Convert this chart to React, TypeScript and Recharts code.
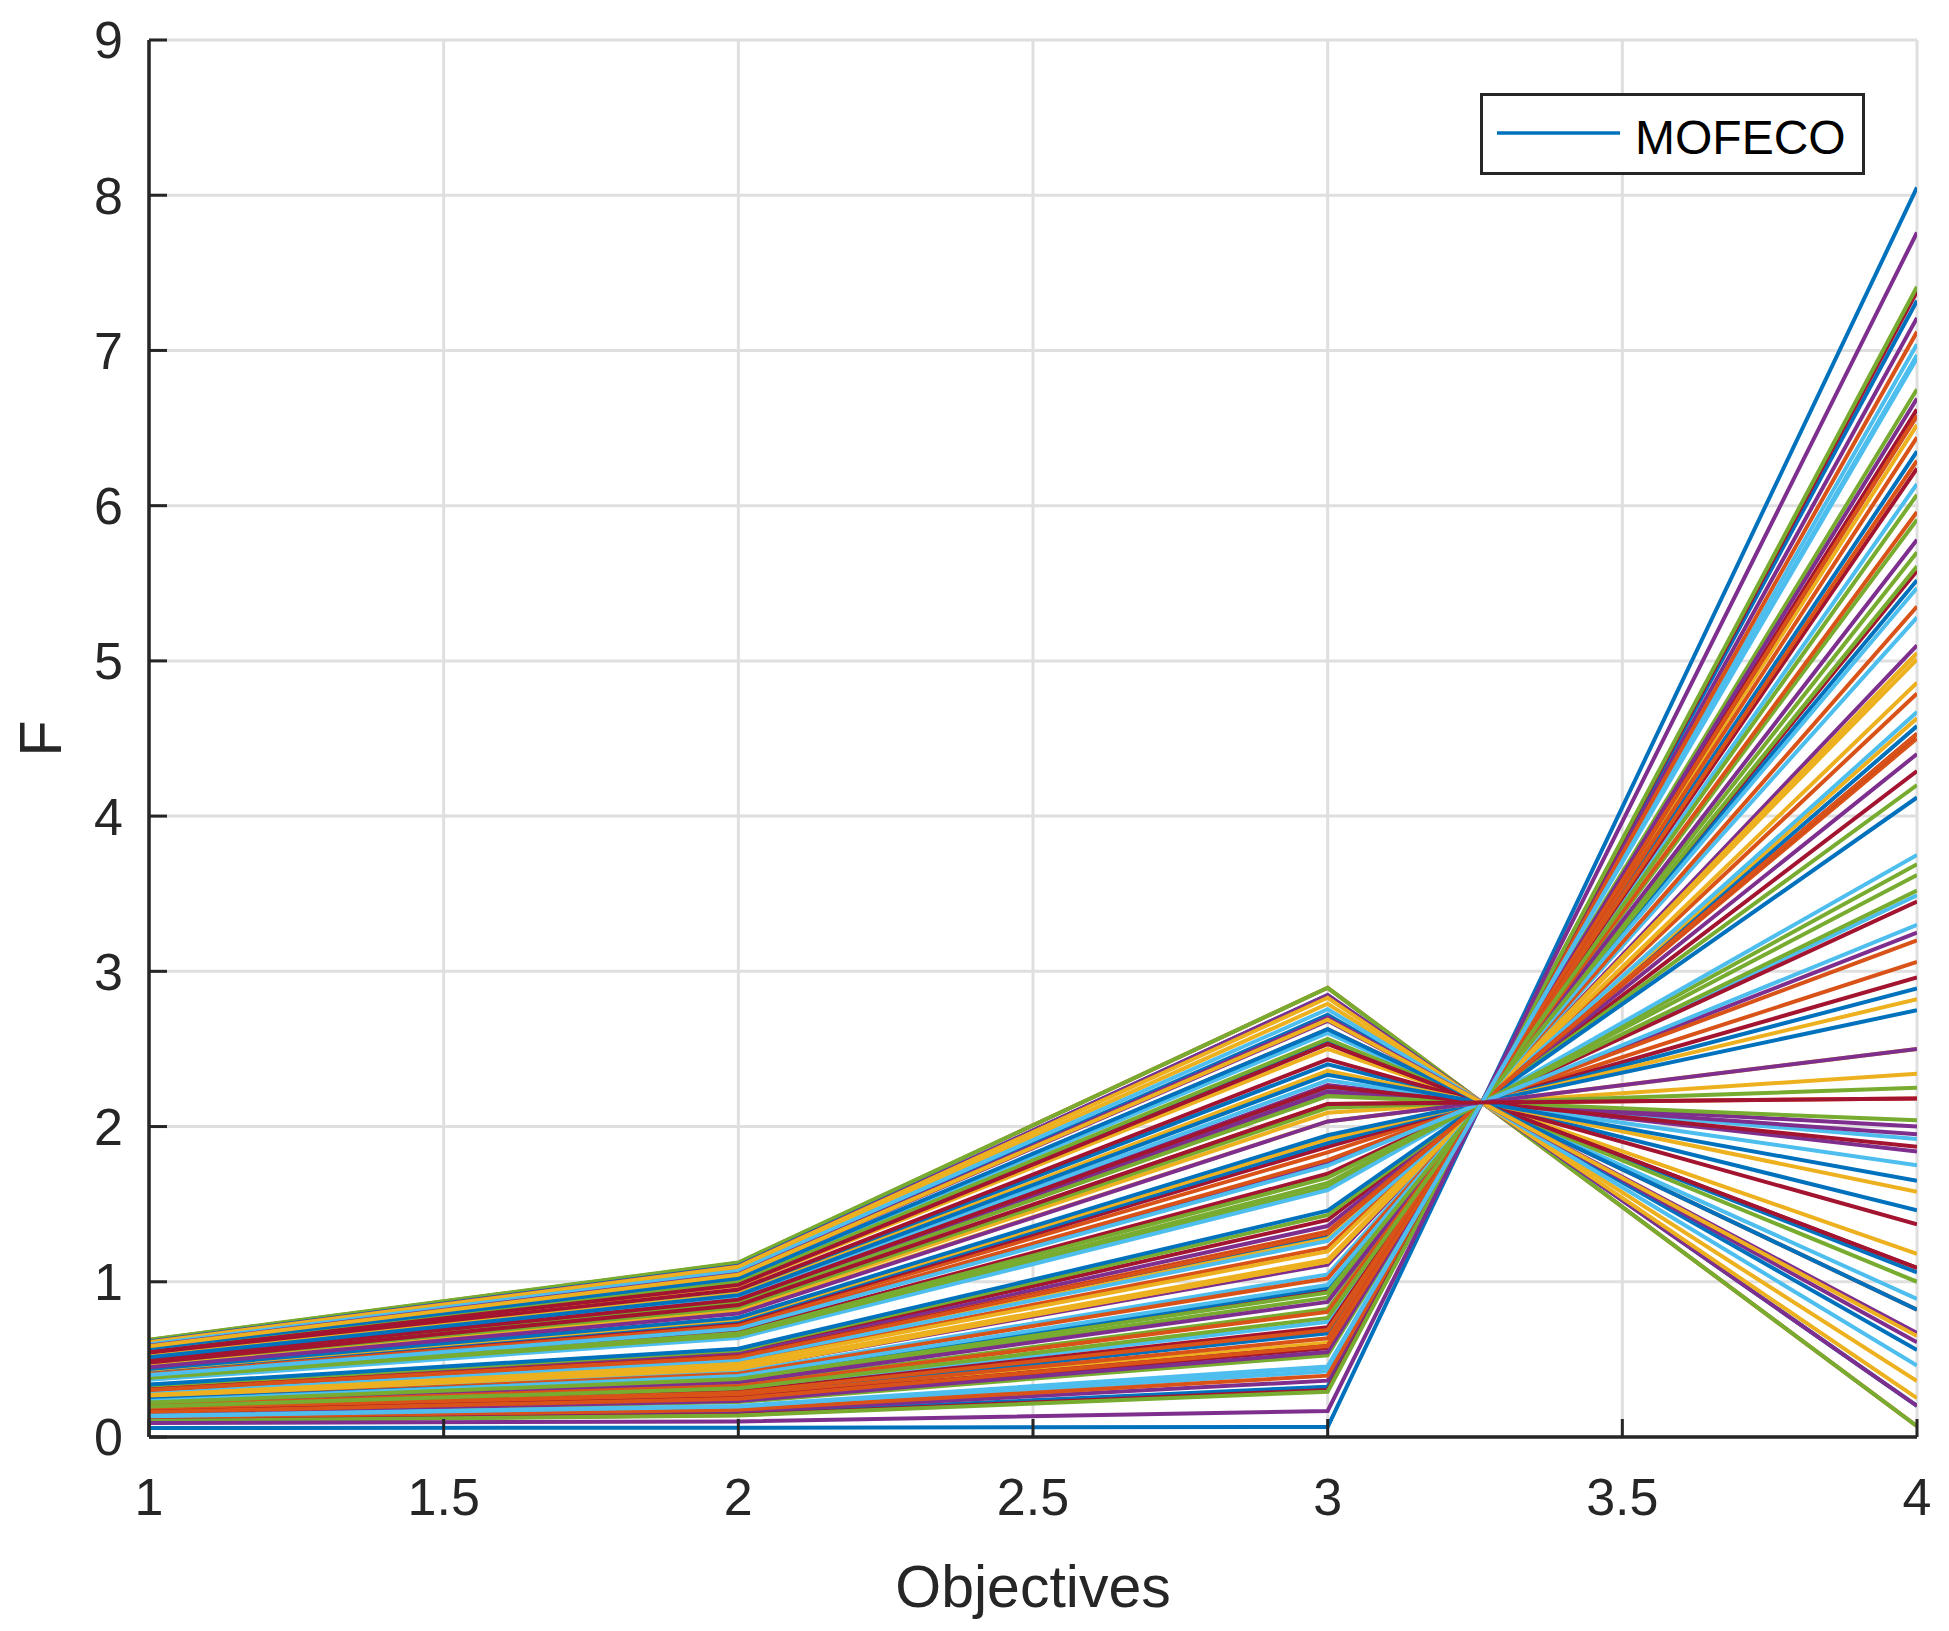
import React from 'react';
import { LineChart, Line, XAxis, YAxis, CartesianGrid, Legend } from 'recharts';

// Objective index on the x axis
const objectives = [1, 2, 3, 4];

// Value of each solution (one entry per line) at objective 1, 2, 3 and 4
const obj1Values = [
  0.110, 0.416, 0.547, 0.264, 0.372, 0.198, 0.320,
  0.527, 0.624, 0.267, 0.582, 0.215, 0.495, 0.553,
  0.300, 0.568, 0.458, 0.490, 0.626, 0.368, 0.158,
  0.615, 0.285, 0.165, 0.117, 0.149, 0.129, 0.431,
  0.177, 0.477, 0.604, 0.305, 0.473, 0.567, 0.230,
  0.428, 0.123, 0.281, 0.501, 0.326, 0.258, 0.534,
  0.058, 0.240, 0.433, 0.153, 0.208, 0.386, 0.105,
  0.555, 0.170, 0.262, 0.612, 0.551, 0.134, 0.389,
  0.338, 0.306, 0.519, 0.403, 0.384, 0.507, 0.185,
  0.590, 0.181, 0.290, 0.217, 0.103, 0.293, 0.548,
  0.241, 0.406, 0.611, 0.493, 0.487, 0.597, 0.305,
  0.438, 0.204, 0.270, 0.090, 0.196, 0.232, 0.499,
  0.572, 0.303, 0.455, 0.587, 0.381, 0.399, 0.163,
  0.514, 0.161, 0.584, 0.450, 0.222, 0.137, 0.480,
];
const obj2Values = [
  0.150, 0.729, 0.975, 0.441, 0.646, 0.305, 0.547,
  0.938, 1.121, 0.448, 1.042, 0.362, 0.878, 0.987,
  0.509, 1.015, 0.823, 0.868, 1.124, 0.638, 0.242,
  1.104, 0.482, 0.255, 0.164, 0.225, 0.187, 0.742,
  0.277, 0.844, 1.083, 0.533, 0.835, 1.013, 0.378,
  0.751, 0.176, 0.473, 0.889, 0.559, 0.417, 0.950,
  0.060, 0.408, 0.760, 0.232, 0.335, 0.672, 0.142,
  0.991, 0.265, 0.440, 1.100, 0.999, 0.196, 0.678,
  0.569, 0.520, 0.923, 0.704, 0.668, 0.900, 0.292,
  1.056, 0.285, 0.503, 0.352, 0.138, 0.497, 0.980,
  0.386, 0.710, 1.097, 0.874, 0.863, 1.070, 0.520,
  0.769, 0.328, 0.453, 0.100, 0.314, 0.393, 0.885,
  1.022, 0.516, 0.802, 1.050, 0.655, 0.697, 0.250,
  0.914, 0.247, 1.045, 0.795, 0.374, 0.200, 0.850,
];
const obj3Values = [
  0.324, 1.834, 2.501, 1.111, 1.611, 0.742, 1.398,
  2.401, 2.894, 1.129, 2.681, 0.898, 2.238, 2.532,
  1.295, 2.628, 2.089, 2.210, 2.894, 1.590, 0.572,
  2.848, 1.221, 0.608, 0.363, 0.526, 0.423, 1.870,
  0.668, 2.146, 2.791, 1.359, 2.121, 2.603, 0.941,
  1.894, 0.395, 1.196, 2.267, 1.430, 1.047, 2.433,
  0.065, 1.022, 1.919, 0.547, 0.824, 1.682, 0.303,
  2.543, 0.636, 1.129, 2.848, 2.564, 0.448, 1.696,
  1.458, 1.324, 2.359, 1.767, 1.671, 2.298, 0.707,
  2.720, 0.689, 1.278, 0.870, 0.292, 1.263, 2.532,
  0.962, 1.784, 2.830, 2.228, 2.196, 2.756, 1.313,
  1.944, 0.806, 1.143, 0.168, 0.767, 0.980, 2.256,
  2.628, 1.313, 2.033, 2.703, 1.636, 1.749, 0.586,
  2.334, 0.586, 2.688, 2.033, 0.930, 0.455, 2.146,
];
const obj4Values = [
  7.32, 3.06, 1.18, 5.10, 3.69, 6.14, 4.29,
  1.46, 0.07, 5.05, 0.67, 5.70, 1.92, 1.09,
  4.58, 0.82, 2.34, 2.00, 0.07, 3.75, 6.62,
  0.20, 4.79, 6.52, 7.21, 6.75, 7.04, 2.96,
  6.35, 2.18, 0.36, 4.40, 2.25, 0.89, 5.58,
  2.89, 7.12, 4.86, 1.84, 4.20, 5.28, 1.37,
  8.05, 5.35, 2.82, 6.69, 5.91, 3.49, 7.38,
  1.06, 6.44, 5.05, 0.20, 1.00, 6.97, 3.45,
  4.12, 4.50, 1.58, 3.25, 3.52, 1.75, 6.24,
  0.56, 6.29, 4.63, 5.78, 7.41, 4.67, 1.09,
  5.52, 3.20, 0.25, 1.95, 2.04, 0.46, 4.53,
  2.75, 5.96, 5.01, 7.76, 6.07, 5.47, 1.87,
  0.82, 4.53, 2.50, 0.61, 3.62, 3.30, 6.58,
  1.65, 6.58, 0.65, 2.50, 5.61, 6.95, 2.18,
];

const xTicks = [1, 1.5, 2, 2.5, 3, 3.5, 4];
const yTicks = [0, 1, 2, 3, 4, 5, 6, 7, 8, 9];
const seriesName = 'MOFECO';
const xLabel = 'Objectives';
const yLabel = 'F';

const palette = ['#0072BD', '#D95319', '#EDB120', '#7E2F8E', '#77AC30', '#4DBEEE', '#A2142F'];
const FF = '"Liberation Sans", Arial, Helvetica, sans-serif';
const AX = '#262626';

const columns = [obj1Values, obj2Values, obj3Values, obj4Values];
const tableData = objectives.map((x, j) => {
  const row: Record<string, number> = { x };
  columns[j].forEach((v, i) => {
    row['s' + i] = v;
  });
  return row;
});
const seriesKeys = obj1Values.map((_, i) => 's' + i);

const LegendBox = () => (
  <svg width={385} height={82} style={{ display: 'block' }}>
    <rect x={1.5} y={1.5} width={382} height={79} fill="#fff" stroke={AX} strokeWidth={3} />
    <line x1={17} x2={140} y1={40} y2={40} stroke={palette[0]} strokeWidth={3.6} />
    <text x={155} y={61} fontSize={48} fontFamily={FF} fill="#000">
      {seriesName}
    </text>
  </svg>
);

const YLabel = (props: any) => {
  const vb = props.viewBox || { x: 0, y: 40, width: 149, height: 1397 };
  const cx = vb.x + 41;
  const cy = vb.y + vb.height / 2;
  return (
    <text
      x={cx}
      y={cy}
      transform={`rotate(-90 ${cx} ${cy})`}
      textAnchor="middle"
      dominantBaseline="central"
      fontSize={59}
      fontFamily={FF}
      fill={AX}
    >
      {yLabel}
    </text>
  );
};

export default function App() {
  const axisLine = { stroke: AX, strokeWidth: 3.5 };
  const tickLine = { stroke: AX, strokeWidth: 3 };
  const tickStyle = { fill: AX, fontSize: 52, fontFamily: FF };
  return (
    <div style={{ width: 1949, height: 1631, background: '#fff' }}>
      <style>{'body{margin:0;}'}</style>
      <LineChart
        width={1949}
        height={1631}
        data={tableData}
        margin={{ top: 40, right: 32, bottom: 0, left: 0 }}
      >
        <CartesianGrid xAxisId="b" yAxisId="l" stroke="#dfdfdf" strokeWidth={3} />
        {seriesKeys.map((k, i) => (
          <Line
            key={k}
            xAxisId="b"
            yAxisId="l"
            type="linear"
            dataKey={k}
            name={i === 0 ? seriesName : k}
            stroke={palette[i % palette.length]}
            strokeWidth={4}
            dot={false}
            activeDot={false}
            isAnimationActive={false}
            legendType={i === 0 ? 'line' : 'none'}
          />
        ))}
        <XAxis
          xAxisId="b"
          type="number"
          dataKey="x"
          domain={[1, 4]}
          ticks={xTicks}
          interval={0}
          height={194}
          tickSize={-18}
          tickMargin={59}
          axisLine={axisLine}
          tickLine={tickLine}
          tick={tickStyle}
          allowDataOverflow
          label={{ value: xLabel, position: 'insideBottom', offset: 24, fontSize: 59, fill: AX, fontFamily: FF }}
        />
        <XAxis
          xAxisId="t"
          orientation="top"
          type="number"
          dataKey="x"
          domain={[1, 4]}
          ticks={xTicks}
          interval={0}
          height={0}
          tickSize={-18}
          tickMargin={0}
          axisLine={axisLine}
          tickLine={tickLine}
          tickFormatter={() => ''}
          allowDataOverflow
        />
        <YAxis
          yAxisId="l"
          type="number"
          domain={[0, 9]}
          ticks={yTicks}
          interval={0}
          width={149}
          tickSize={-18}
          tickMargin={44}
          axisLine={axisLine}
          tickLine={tickLine}
          tick={tickStyle}
          allowDataOverflow
          label={{ content: YLabel }}
        />
        <YAxis
          yAxisId="r"
          orientation="right"
          type="number"
          domain={[0, 9]}
          ticks={yTicks}
          interval={0}
          width={0}
          tickSize={-18}
          tickMargin={0}
          axisLine={axisLine}
          tickLine={tickLine}
          tickFormatter={() => ''}
          allowDataOverflow
        />
        <Legend
          layout="vertical"
          align="center"
          verticalAlign="middle"
          wrapperStyle={{ position: 'absolute', left: 1480, top: 93, width: 385, height: 82 }}
          content={<LegendBox />}
        />
      </LineChart>
    </div>
  );
}
